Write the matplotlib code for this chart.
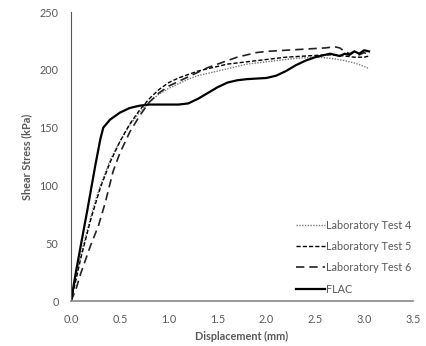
import matplotlib.pyplot as plt

# FLAC model
flac_x = [0, 0.05, 0.1, 0.17, 0.25, 0.3, 0.33, 0.4, 0.5, 0.6, 0.7, 0.8, 0.9, 1.0, 1.1, 1.2,
          1.3, 1.4, 1.5, 1.6, 1.7, 1.8, 1.9, 2.0, 2.1, 2.2, 2.3, 2.4, 2.5, 2.6, 2.65, 2.7,
          2.75, 2.8, 2.85, 2.9, 2.95, 3.0, 3.05]
flac_y = [0, 25, 48, 80, 118, 140, 150, 157, 163, 167, 169, 170, 170, 170, 170, 171,
          175, 180, 185, 189, 191, 192, 192.5, 193, 195, 199, 204, 208, 211, 213, 214, 213,
          212, 214, 213, 216, 214, 217, 216]

# Laboratory tests
lab4_x = [0, 0.05, 0.1, 0.2, 0.25, 0.3, 0.4, 0.5, 0.6, 0.7, 0.8, 0.9, 1.0, 1.1, 1.2, 1.3,
          1.4, 1.5, 1.6, 1.7, 1.8, 1.9, 2.0, 2.1, 2.2, 2.3, 2.4, 2.5, 2.6, 2.7, 2.8, 2.9,
          3.0, 3.05]
lab4_y = [0, 20, 40, 72, 87, 100, 122, 138, 152, 163, 172, 179, 184, 188, 192, 195,
          197, 199, 201, 203, 205, 206, 207, 208, 209, 210, 210.5, 211, 210.5, 209.5, 208, 206,
          203, 201]

lab5_x = [0, 0.05, 0.1, 0.2, 0.3, 0.4, 0.5, 0.6, 0.7, 0.8, 0.9, 1.0, 1.1, 1.2, 1.3, 1.4,
          1.5, 1.6, 1.7, 1.8, 1.9, 2.0, 2.2, 2.4, 2.6, 2.7, 2.8, 2.9, 3.0, 3.05]
lab5_y = [0, 18, 37, 70, 98, 120, 138, 153, 165, 175, 183, 189, 193, 196, 199, 201,
          203, 205, 206, 207, 208, 209, 211, 212, 213, 213, 212, 211, 211, 212]

lab6_x = [0, 0.05, 0.1, 0.2, 0.28, 0.35, 0.43, 0.5, 0.6, 0.7, 0.8, 0.9, 1.0, 1.1, 1.2, 1.3,
          1.4, 1.5, 1.6, 1.7, 1.8, 1.9, 2.0, 2.2, 2.4, 2.6, 2.7, 2.75, 2.8, 2.85, 2.9, 2.95,
          3.0, 3.05]
lab6_y = [0, 10, 24, 48, 65, 85, 112, 128, 146, 160, 172, 180, 186, 190, 194, 198,
          202, 205, 208, 211, 213, 215, 216, 217, 218, 219, 220, 219, 216, 214, 216, 213,
          215, 213]

x_ticks = [0.0, 0.5, 1.0, 1.5, 2.0, 2.5, 3.0, 3.5]
y_ticks = [0, 50, 100, 150, 200, 250]

plt.rcParams['font.family'] = ['Lato', 'DejaVu Sans']
gray = '#595959'

fig = plt.figure(figsize=(4.26, 3.46), dpi=100)
ax = fig.add_axes([0.1667, 0.130, 0.8028, 0.835])

ax.plot(lab4_x, lab4_y, color='#7a7a7a', lw=1.0, linestyle=(0, (1, 1)), label='Laboratory Test 4')
ax.plot(lab5_x, lab5_y, color='black', lw=1.0, linestyle=(0, (3, 1.5)), label='Laboratory Test 5')
ax.plot(lab6_x, lab6_y, color='#222222', lw=1.2, linestyle=(0, (5, 3)), label='Laboratory Test 6')
ax.plot(flac_x, flac_y, color='black', lw=1.6, label='FLAC')

ax.set_xlim(0, 3.5)
ax.set_ylim(0, 250)
ax.set_xticks(x_ticks)
ax.set_xticklabels([f'{t:.1f}' for t in x_ticks])
ax.set_yticks(y_ticks)
ax.tick_params(length=0, labelsize=7.8, colors=gray)
ax.tick_params(axis='x', pad=9)
ax.tick_params(axis='y', pad=9)

for s in ['top', 'right']:
    ax.spines[s].set_visible(False)
ax.spines['left'].set_color('#555555')
ax.spines['bottom'].set_color('#888888')
ax.spines['bottom'].set_linewidth(1.2)

ax.set_xlabel('Displacement (mm)', fontsize=7.8, fontweight='bold', color=gray, labelpad=5)
ax.set_ylabel('Shear Stress (kPa)', fontsize=7.8, fontweight='bold', color=gray, labelpad=5)

leg = ax.legend(loc='lower right', frameon=False, fontsize=7.8, handlelength=2.7,
                handletextpad=0.1, labelspacing=0.95, borderaxespad=0.2,
                bbox_to_anchor=(1.015, 0.0))
for t in leg.get_texts():
    t.set_color(gray)

fig.savefig('out.png', dpi=100)
